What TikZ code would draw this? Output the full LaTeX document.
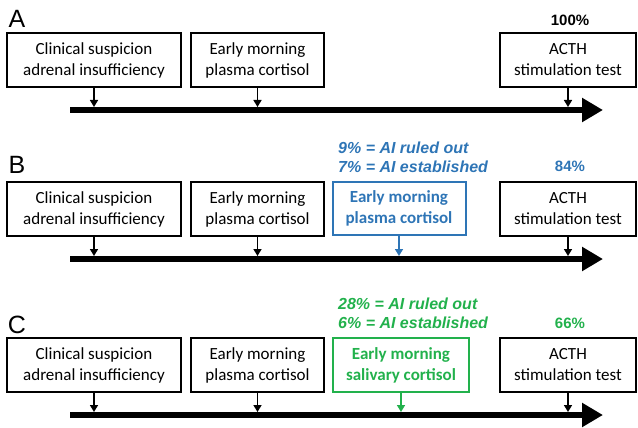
\documentclass[tikz,border=0pt]{standalone}
\usepackage{fontspec}
\setmainfont{Carlito}
\newfontfamily\arialfont{Liberation Sans}
\usetikzlibrary{arrows.meta}
\definecolor{aiblue}{RGB}{46,117,182}
\definecolor{aigreen}{RGB}{34,177,76}
\tikzset{
  stagebox/.style={draw=black, line width=2pt, minimum height=54pt, align=center,
    font=\fontsize{17}{21}\selectfont, inner sep=0pt},
  newbox/.style={stagebox, font=\fontsize{17}{21}\selectfont\bfseries},
  timeline/.style={line width=6pt, -{Triangle[length=21pt,width=23pt]}},
  feed/.style={line width=1.6pt, -{Triangle[length=7pt,width=8pt]}},
  panellabel/.style={font=\arialfont\fontsize{25}{25}\selectfont, inner sep=0pt},
  pct/.style={font=\arialfont\bfseries\fontsize{15}{19}\selectfont, inner sep=0pt},
  stat/.style={font=\arialfont\bfseries\itshape\fontsize{16}{19}\selectfont,
    inner sep=0pt, align=left, anchor=west},
}
\begin{document}
\begin{tikzpicture}[x=1pt,y=-1pt]
\useasboundingbox (0,0) rectangle (638,428);

% the three common rows: suspicion, plasma cortisol, ACTH test on a time axis
\foreach \p/\dy/\ly in {A/0/19, B/149/165, C/305/325} {
  \node[panellabel] (lab\p) at (17,\ly) {\p};
  \node[stagebox, minimum width=174pt] (clin\p) at (94,60+\dy)
    {Clinical suspicion\\adrenal insufficiency};
  \node[stagebox, minimum width=133pt] (plasma\p) at (257.5,60+\dy)
    {Early morning\\plasma cortisol};
  \node[stagebox, minimum width=136pt] (acth\p) at (568,60+\dy)
    {ACTH\\stimulation test};
  \coordinate (start\p) at (70,110+\dy);
  \coordinate (end\p) at (603,110+\dy);
  \coordinate (top\p) at (0,107+\dy);
  \draw[timeline] (start\p) -- (end\p);
  \draw[feed] (clin\p.south) -- (clin\p.south |- top\p);
  \draw[feed] (plasma\p.south) -- (plasma\p.south |- top\p);
  \draw[feed] (acth\p.south) -- (acth\p.south |- top\p);
}

% A: everyone goes to the ACTH test
\node[pct] (pctA) at (570,20) {100\%};

% B: repeated plasma cortisol
\node[newbox, draw=aiblue, text=aiblue, minimum width=133pt, minimum height=53pt]
  (extraB) at (399,208) {Early morning\\plasma cortisol};
\draw[feed, aiblue] (extraB.south) -- (extraB.south |- topB);
\node[stat, text=aiblue] (statB) at (338,157.5)
  {9\% = AI ruled out\\7\% = AI established};
\node[pct, text=aiblue] (pctB) at (570,166) {84\%};

% C: salivary cortisol
\node[newbox, draw=aigreen, text=aigreen, minimum width=136pt]
  (extraC) at (401,365) {Early morning\\salivary cortisol};
\draw[feed, aigreen] (extraC.south) -- (extraC.south |- topC);
\node[stat, text=aigreen] (statC) at (338,313.5)
  {28\% = AI ruled out\\6\% = AI established};
\node[pct, text=aigreen] (pctC) at (570,323) {66\%};
\end{tikzpicture}
\end{document}
